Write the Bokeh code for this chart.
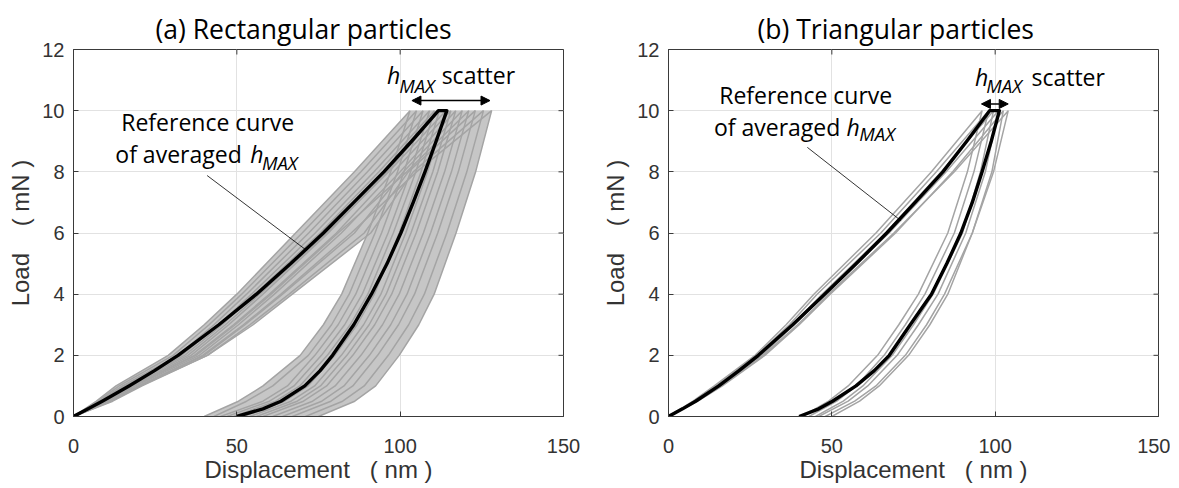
from bokeh.plotting import figure
from bokeh.layouts import row
from bokeh.models import Arrow, NormalHead, FixedTicker, Range1d
from bokeh.embed import file_html
from bokeh.resources import INLINE
from bokeh.core.properties import value

# ---------------- data ----------------
LOADS = [0, 0.5, 1, 2, 3, 4, 6, 8, 10]                                   # mN, grey curves
REF_LOADS = [0, 0.25, 0.5, 1, 1.5, 2, 3, 4, 5, 6, 7, 8, 9, 10]          # mN, reference curves
X_TICKS = [0, 50, 100, 150]
Y_TICKS = [0, 2, 4, 6, 8, 10, 12]

TITLE_A = "(a) Rectangular particles"
TITLE_B = "(b) Triangular particles"

# (a) reference curve (displacement in nm at each load level)
REF_A_LOAD = [0, 4.5, 8.8, 17, 24.8, 32, 44.5, 56, 66.5, 76.5, 85.8, 95, 103.5, 111.7]
REF_A_UNLOAD = [50, 58, 63.5, 70.8, 75.5, 79.3, 85.8, 91.2, 96, 100.2, 104, 107.6, 111, 114.3]

# (a) individual indentation curves
GREY_A_LOAD = [
    [0, 7, 13, 29, 40, 50, 68, 86, 103],
    [0, 7.5, 14, 30.5, 41.5, 51.5, 70, 88, 105],
    [0, 8, 15, 32, 43, 53, 72, 90, 107],
    [0, 8.5, 15.5, 33, 44.5, 54.5, 74, 92, 109],
    [0, 9, 16, 34, 45.5, 55.5, 75.5, 93.5, 110.5],
    [0, 9.5, 17.5, 36, 47.5, 58, 78, 96, 112],
    [0, 9, 16.5, 35, 46.5, 57, 77.5, 96.5, 114],
    [0, 10, 18, 37, 49, 60, 80.5, 98, 115.5],
    [0, 10.5, 19, 38.5, 50.5, 61.5, 82, 100, 117],
    [0, 11, 20, 40, 52.5, 64, 86, 101, 119],
    [0, 10, 18.5, 37.5, 49.5, 60.5, 81, 102, 121],
    [0, 11.5, 20.5, 41, 54, 66, 89, 102.5, 123],
    [0, 12, 21, 41, 55, 67, 91, 104, 125.5],
    [0, 11, 20, 39.5, 52, 63.5, 85, 105, 128],
]
GREY_A_UNLOAD = [
    [40, 50.5, 58, 69.4, 76.5, 82.1, 90.1, 97.1, 103],
    [43, 53, 61, 71.9, 79.0, 84.4, 92.3, 99.2, 105],
    [45, 58.0, 65.5, 73.9, 81.0, 86.4, 94.3, 101.2, 107],
    [47, 60.0, 67.5, 75.9, 83.0, 88.4, 96.3, 103.2, 109],
    [49, 61.9, 69.3, 77.7, 84.7, 90.1, 97.9, 104.8, 110.5],
    [52, 64.6, 71.8, 80.0, 86.8, 92.1, 99.7, 106.4, 112],
    [54, 66.6, 73.8, 82.0, 88.8, 94.1, 101.7, 108.4, 114],
    [56, 68.5, 75.6, 83.7, 90.5, 95.7, 103.3, 110.0, 115.5],
    [58, 70.4, 77.5, 85.5, 92.2, 97.4, 104.9, 111.5, 117],
    [61, 73.2, 80.1, 88.0, 94.6, 99.7, 107.1, 113.6, 119],
    [64, 76.0, 82.8, 90.6, 97.1, 102.1, 109.3, 115.7, 121],
    [67, 78.8, 85.5, 93.1, 99.5, 104.4, 111.5, 117.8, 123],
    [71, 82.4, 89.0, 96.4, 102.6, 107.4, 114.3, 120.4, 125.5],
    [75, 86.1, 92.5, 99.7, 105.7, 110.4, 117.1, 123.1, 128],
]
SCATTER_A = [103.6, 127.5]   # h_MAX range (nm)

# (b) reference curve
REF_B_LOAD = [0, 4.3, 8.3, 15.4, 21.6, 27.5, 38, 47.8, 57.5, 66.8, 75.5, 84, 91.3, 98.3]
REF_B_UNLOAD = [40, 46, 50.2, 57.4, 63, 67.6, 74, 80.5, 85.2, 89.5, 93, 96, 98.8, 101.3]

# (b) individual indentation curves
GREY_B_LOAD = [
    [0, 7.5, 14, 26.5, 36, 44.5, 63.5, 80.5, 96],
    [0, 8, 14.5, 27, 37, 45.5, 65, 82, 98],
    [0, 8, 15, 28, 38, 47, 66.5, 83.5, 99.5],
    [0, 8.5, 15.5, 28.5, 38.5, 48, 67.5, 85, 101],
    [0, 9, 16.5, 29.5, 40, 49.5, 69.5, 87, 102.5],
    [0, 8.5, 16, 29, 39.5, 49, 69, 87.5, 104],
]
GREY_B_UNLOAD = [
    [41, 49, 55, 64, 70.5, 76.5, 85.5, 91.5, 96],
    [43, 51.5, 57.5, 66, 72.5, 78.5, 87.5, 93.5, 98],
    [45, 53.5, 59.5, 68.5, 75, 81, 90, 95.5, 99.5],
    [46, 55, 61, 70, 76.5, 82.5, 91, 97, 101],
    [48, 57, 63.5, 72.5, 79, 84.5, 93, 99, 102.5],
    [50, 58.5, 64.5, 73.5, 80, 85.5, 93, 99.5, 104],
]
SCATTER_B = [95.8, 104.0]

# ---------------- annotation placement ----------------
ANN_A = dict(ref=(41.1, 9.40), line2=(12.8, 8.37), h2=(54.1, 8.37), max2=(57.7, 8.09),
             leader=((40.9, 71.5), (7.88, 5.42)),
             h1=(96.0, 10.93), max1=(99.7, 10.59), sc=(112.7, 10.93), arrow_y=10.33)
ANN_B = dict(ref=(42.0, 10.27), line2=(13.9, 9.24), h2=(54.5, 9.24), max2=(58.4, 9.02),
             leader=((42.5, 71.2), (8.8, 6.4)),
             h1=(93.8, 10.87), max1=(97.3, 10.60), sc=(111.1, 10.87), arrow_y=10.22)

AX_COLOR = "#3a3a3a"
TXT_COLOR = "#333333"
GREY = "#a4a4a4"
BAND = "#c6c6c6"
ANN_FONT = "Open Sans"
ANN_SIZE = "23px"
SUB_SIZE = "18.5px"
TEXT_SHIFT = -7          # px, baseline correction for the annotation texts
FRAME_W, FRAME_H = 490, 367
TICK_PX = 5
NB = "\u00a0"


def loop(load, unload, loads):
    return list(load) + list(unload)[::-1], list(loads) + list(loads)[::-1]


def band(curves, loads):
    lo = [min(c[i] for c in curves) for i in range(len(loads))]
    hi = [max(c[i] for c in curves) for i in range(len(loads))]
    return lo + hi[::-1], list(loads) + list(loads)[::-1]


def make_panel(title, ref_load, ref_unload, grey_load, grey_unload, scatter, ann,
               border_left, border_right, title_offset, fill_band):
    p = figure(frame_width=FRAME_W, frame_height=FRAME_H,
               x_range=Range1d(0, 150), y_range=Range1d(0, 12),
               output_backend="svg", toolbar_location=None,
               min_border_left=border_left, min_border_right=border_right,
               min_border_top=49, min_border_bottom=71,
               background_fill_color="white", border_fill_color="white")
    p.outline_line_color = AX_COLOR
    p.outline_line_width = 1

    # title
    p.title.text = title
    p.title.text_font = "Open Sans"
    p.title.text_font_size = "26.5px"
    p.title.text_font_style = "normal"
    p.title.text_color = "black"
    p.title.align = "left"
    p.title.offset = title_offset
    p.title.standoff = 5

    # grid
    p.xgrid.ticker = FixedTicker(ticks=X_TICKS)
    p.ygrid.ticker = FixedTicker(ticks=Y_TICKS)
    p.xgrid.grid_line_color = "#e2e2e2"
    p.ygrid.grid_line_color = "#e2e2e2"

    # axes
    for ax in (p.xaxis[0], p.yaxis[0]):
        ax.major_tick_in = TICK_PX
        ax.major_tick_out = 0
        ax.minor_tick_line_color = None
        ax.axis_line_color = AX_COLOR
        ax.major_tick_line_color = AX_COLOR
        ax.major_label_text_font = "Liberation Sans"
        ax.major_label_text_font_size = "20px"
        ax.major_label_text_color = TXT_COLOR
        ax.axis_label_text_font = "Liberation Sans"
        ax.axis_label_text_font_size = "24px"
        ax.axis_label_text_font_style = "normal"
        ax.axis_label_text_color = TXT_COLOR
    p.xaxis.ticker = FixedTicker(ticks=X_TICKS)
    p.yaxis.ticker = FixedTicker(ticks=Y_TICKS)
    p.xaxis.axis_label = "Displacement" + NB * 3 + "(" + NB + "nm" + NB + ")"
    p.yaxis.axis_label = "Load" + NB * 4 + "(" + NB + "mN" + NB + ")"
    p.xaxis.major_label_standoff = 22
    p.xaxis.axis_label_standoff = 0
    p.yaxis.major_label_standoff = 9
    p.yaxis.axis_label_standoff = 5

    # inward ticks on the top and right edges of the box
    dy = TICK_PX * 12 / FRAME_H
    dx = TICK_PX * 150 / FRAME_W
    p.segment(x0=X_TICKS, y0=[12] * len(X_TICKS), x1=X_TICKS, y1=[12 - dy] * len(X_TICKS),
              line_color=AX_COLOR, line_width=1)
    p.segment(x0=[150] * len(Y_TICKS), y0=Y_TICKS, x1=[150 - dx] * len(Y_TICKS), y1=Y_TICKS,
              line_color=AX_COLOR, line_width=1)

    # shaded envelope of the individual curves
    if fill_band:
        for curves in (grey_load, grey_unload):
            bx, by = band(curves, LOADS)
            p.patch(bx, by, fill_color=BAND, line_color=None)

    # grey individual curves
    xs, ys = [], []
    for ld, ul in zip(grey_load, grey_unload):
        x, y = loop(ld, ul, LOADS)
        xs.append(x)
        ys.append(y)
    p.multi_line(xs=xs, ys=ys, line_color=GREY, line_width=1.5)

    # reference curve
    rx, ry = loop(ref_load, ref_unload, REF_LOADS)
    p.line(rx, ry, line_color="black", line_width=3.4, line_join="round")

    # leader line
    p.line(list(ann["leader"][0]), list(ann["leader"][1]), line_color="black", line_width=0.8)

    # h_MAX scatter arrow
    p.add_layout(Arrow(start=NormalHead(size=9, fill_color="black", line_color="black"),
                       end=NormalHead(size=9, fill_color="black", line_color="black"),
                       x_start=scatter[0], y_start=ann["arrow_y"],
                       x_end=scatter[1], y_end=ann["arrow_y"],
                       line_color="black", line_width=1.5))

    common = dict(text_font=value(ANN_FONT), text_color="black", text_baseline="alphabetic",
                  y_offset=TEXT_SHIFT)
    p.text(x=[ann["ref"][0]], y=[ann["ref"][1]], text=["Reference curve"],
           text_font_size=ANN_SIZE, text_align="center", **common)
    p.text(x=[ann["line2"][0]], y=[ann["line2"][1]], text=["of averaged"],
           text_font_size=ANN_SIZE, text_align="left", **common)
    p.text(x=[ann["h2"][0], ann["h1"][0]], y=[ann["h2"][1], ann["h1"][1]], text=["h", "h"],
           text_font_size=ANN_SIZE, text_align="left", text_font_style="italic", **common)
    p.text(x=[ann["max2"][0], ann["max1"][0]], y=[ann["max2"][1], ann["max1"][1]],
           text=["MAX", "MAX"], text_font_size=SUB_SIZE, text_align="left",
           text_font_style="italic", **common)
    p.text(x=[ann["sc"][0]], y=[ann["sc"][1]], text=["scatter"],
           text_font_size=ANN_SIZE, text_align="left", **common)
    return p


pa = make_panel(TITLE_A, REF_A_LOAD, REF_A_UNLOAD, GREY_A_LOAD, GREY_A_UNLOAD,
                SCATTER_A, ANN_A, 73, 32, 82, True)
pb = make_panel(TITLE_B, REF_B_LOAD, REF_B_UNLOAD, GREY_B_LOAD, GREY_B_UNLOAD,
                SCATTER_B, ANN_B, 73, 12, 89, False)

layout = row(pa, pb, spacing=0)
open("out.html", "w").write(file_html(layout, INLINE))
